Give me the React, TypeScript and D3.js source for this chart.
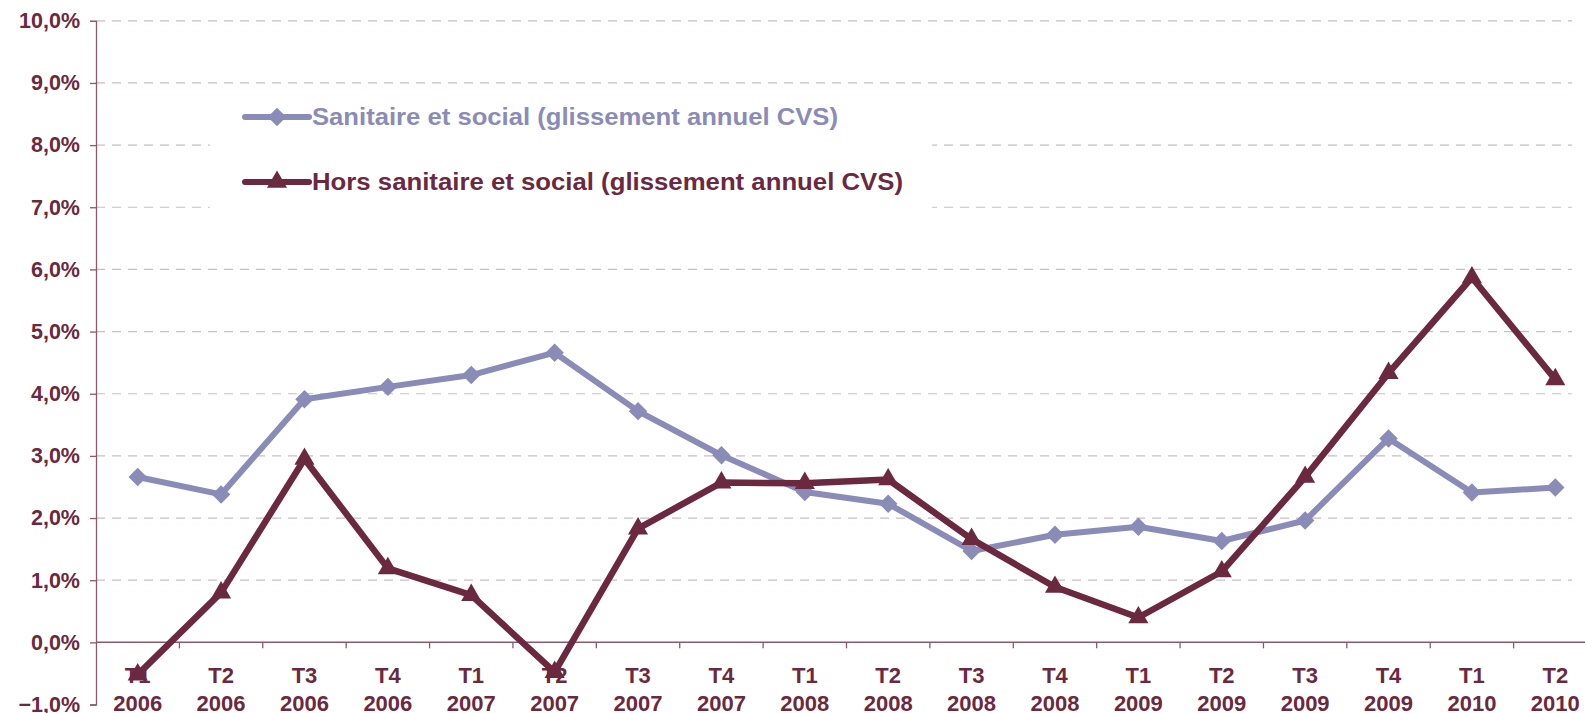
import { useEffect, useRef } from 'react'
import * as d3 from 'd3'

const quarters = ['T1', 'T2', 'T3', 'T4', 'T1', 'T2', 'T3', 'T4', 'T1', 'T2', 'T3', 'T4', 'T1', 'T2', 'T3', 'T4', 'T1', 'T2']
const years = ['2006', '2006', '2006', '2006', '2007', '2007', '2007', '2007', '2008', '2008', '2008', '2008', '2009', '2009', '2009', '2009', '2010', '2010']
const sanitaire = [2.66, 2.38, 3.91, 4.11, 4.3, 4.66, 3.72, 3.01, 2.42, 2.23, 1.47, 1.73, 1.86, 1.63, 1.96, 3.28, 2.41, 2.49]
const hors = [-0.52, 0.8, 2.95, 1.19, 0.76, -0.48, 1.83, 2.57, 2.56, 2.62, 1.66, 0.89, 0.4, 1.14, 2.66, 4.33, 5.87, 4.23]
const yTicks = [-1, 0, 1, 2, 3, 4, 5, 6, 7, 8, 9, 10]
const legendLabels = ['Sanitaire et social (glissement annuel CVS)', 'Hors sanitaire et social (glissement annuel CVS)']

const LIGHT = '#8b8bb8'
const DARK = '#6b2940'
const FONT = '"Liberation Sans", Arial, sans-serif'

export default function App() {
  const svgRef = useRef<SVGSVGElement>(null)

  useEffect(() => {
    if (!svgRef.current) return
    const svg = d3.select(svgRef.current)
    svg.selectAll('*').remove()

    const x = d3.scaleBand<number>().domain(d3.range(quarters.length)).range([96, 1597]).padding(0)
    const y = d3.scaleLinear().domain([-1, 10]).range([704.5, 20.8])
    const cx = (i: number) => (x(i) ?? 0) + x.bandwidth() / 2

    // dashed gridlines
    svg.append('g')
      .selectAll('line')
      .data(yTicks.filter((t) => t > 0))
      .join('line')
      .attr('x1', 96)
      .attr('x2', 1572)
      .attr('y1', (d) => y(d))
      .attr('y2', (d) => y(d))
      .attr('stroke', '#cdbcc3')
      .attr('stroke-width', 1.2)
      .attr('stroke-dasharray', '9,7')

    // legend background hides gridlines
    svg.append('rect').attr('x', 210).attr('y', 92).attr('width', 722).attr('height', 120).attr('fill', '#fff')

    // y axis
    const yAxis = svg.append('g').attr('transform', 'translate(96,0)')
      .call(d3.axisLeft(y).tickValues(yTicks).tickSize(6).tickFormat((d) => d3.format('.1f')(d as number).replace('.', ',') + '%'))
    yAxis.select('.domain').attr('stroke', '#8a5a6a').attr('stroke-width', 1.3)
    yAxis.selectAll('.tick line').attr('stroke', '#8a5a6a').attr('stroke-width', 1.3)
    yAxis.selectAll('.tick text')
      .attr('x', -16)
      .attr('fill', DARK)
      .attr('font-family', FONT)
      .attr('font-weight', 'bold')
      .attr('font-size', 21.5)

    // x axis line at zero
    svg.append('line')
      .attr('x1', 96).attr('x2', 1585)
      .attr('y1', y(0)).attr('y2', y(0))
      .attr('stroke', '#8a5a6a').attr('stroke-width', 1.5)
    svg.append('g')
      .selectAll('line')
      .data(d3.range(1, quarters.length))
      .join('line')
      .attr('x1', (i) => x(i) ?? 0)
      .attr('x2', (i) => x(i) ?? 0)
      .attr('y1', y(0))
      .attr('y2', y(0) + 6)
      .attr('stroke', '#8a5a6a')
      .attr('stroke-width', 1.3)

    const xl = svg.append('g')
      .attr('fill', DARK)
      .attr('font-family', FONT)
      .attr('font-weight', 'bold')
      .attr('font-size', 22)
      .attr('text-anchor', 'middle')
    xl.selectAll('text.q').data(quarters).join('text').attr('class', 'q')
      .attr('x', (_, i) => cx(i)).attr('y', 683).text((d) => d)
    xl.selectAll('text.yr').data(years).join('text').attr('class', 'yr')
      .attr('x', (_, i) => cx(i)).attr('y', 711).text((d) => d)

    const line = d3.line<number>().x((_, i) => cx(i)).y((d) => y(d))
    const diamond = d3.symbol().type(d3.symbolSquare).size(170)
    const triangle = d3.symbol().type(d3.symbolTriangle).size(175)

    svg.append('path').datum(sanitaire).attr('d', line).attr('fill', 'none')
      .attr('stroke', LIGHT).attr('stroke-width', 6).attr('stroke-linejoin', 'round')
    svg.append('g').selectAll('path').data(sanitaire).join('path')
      .attr('d', diamond())
      .attr('transform', (d, i) => `translate(${cx(i)},${y(d)}) rotate(45)`)
      .attr('fill', LIGHT)

    svg.append('path').datum(hors).attr('d', line).attr('fill', 'none')
      .attr('stroke', DARK).attr('stroke-width', 6.5).attr('stroke-linejoin', 'round')
    svg.append('g').selectAll('path').data(hors).join('path')
      .attr('d', triangle())
      .attr('transform', (d, i) => `translate(${cx(i)},${y(d)})`)
      .attr('fill', DARK)

    // legend
    const legY = [117, 182]
    const legColors = [LIGHT, DARK]
    legendLabels.forEach((label, k) => {
      const g = svg.append('g')
      g.append('line').attr('x1', 245).attr('x2', 309).attr('y1', legY[k]).attr('y2', legY[k])
        .attr('stroke', legColors[k]).attr('stroke-width', 6).attr('stroke-linecap', 'round')
      g.append('path')
        .attr('d', k === 0 ? diamond() : triangle())
        .attr('transform', `translate(277,${legY[k]})${k === 0 ? ' rotate(45)' : ''}`)
        .attr('fill', legColors[k])
      g.append('text')
        .attr('x', 312).attr('y', legY[k] + 8)
        .attr('fill', legColors[k])
        .attr('font-family', FONT)
        .attr('font-weight', 'bold')
        .attr('font-size', 23)
        .attr('textLength', k === 0 ? 526 : 591)
        .attr('lengthAdjust', 'spacingAndGlyphs')
        .text(label)
    })
  }, [])

  return (
    <div style={{ position: 'absolute', left: 0, top: 0 }}>
      <svg ref={svgRef} width={1585} height={713} style={{ display: 'block', background: '#fff' }} />
    </div>
  )
}
